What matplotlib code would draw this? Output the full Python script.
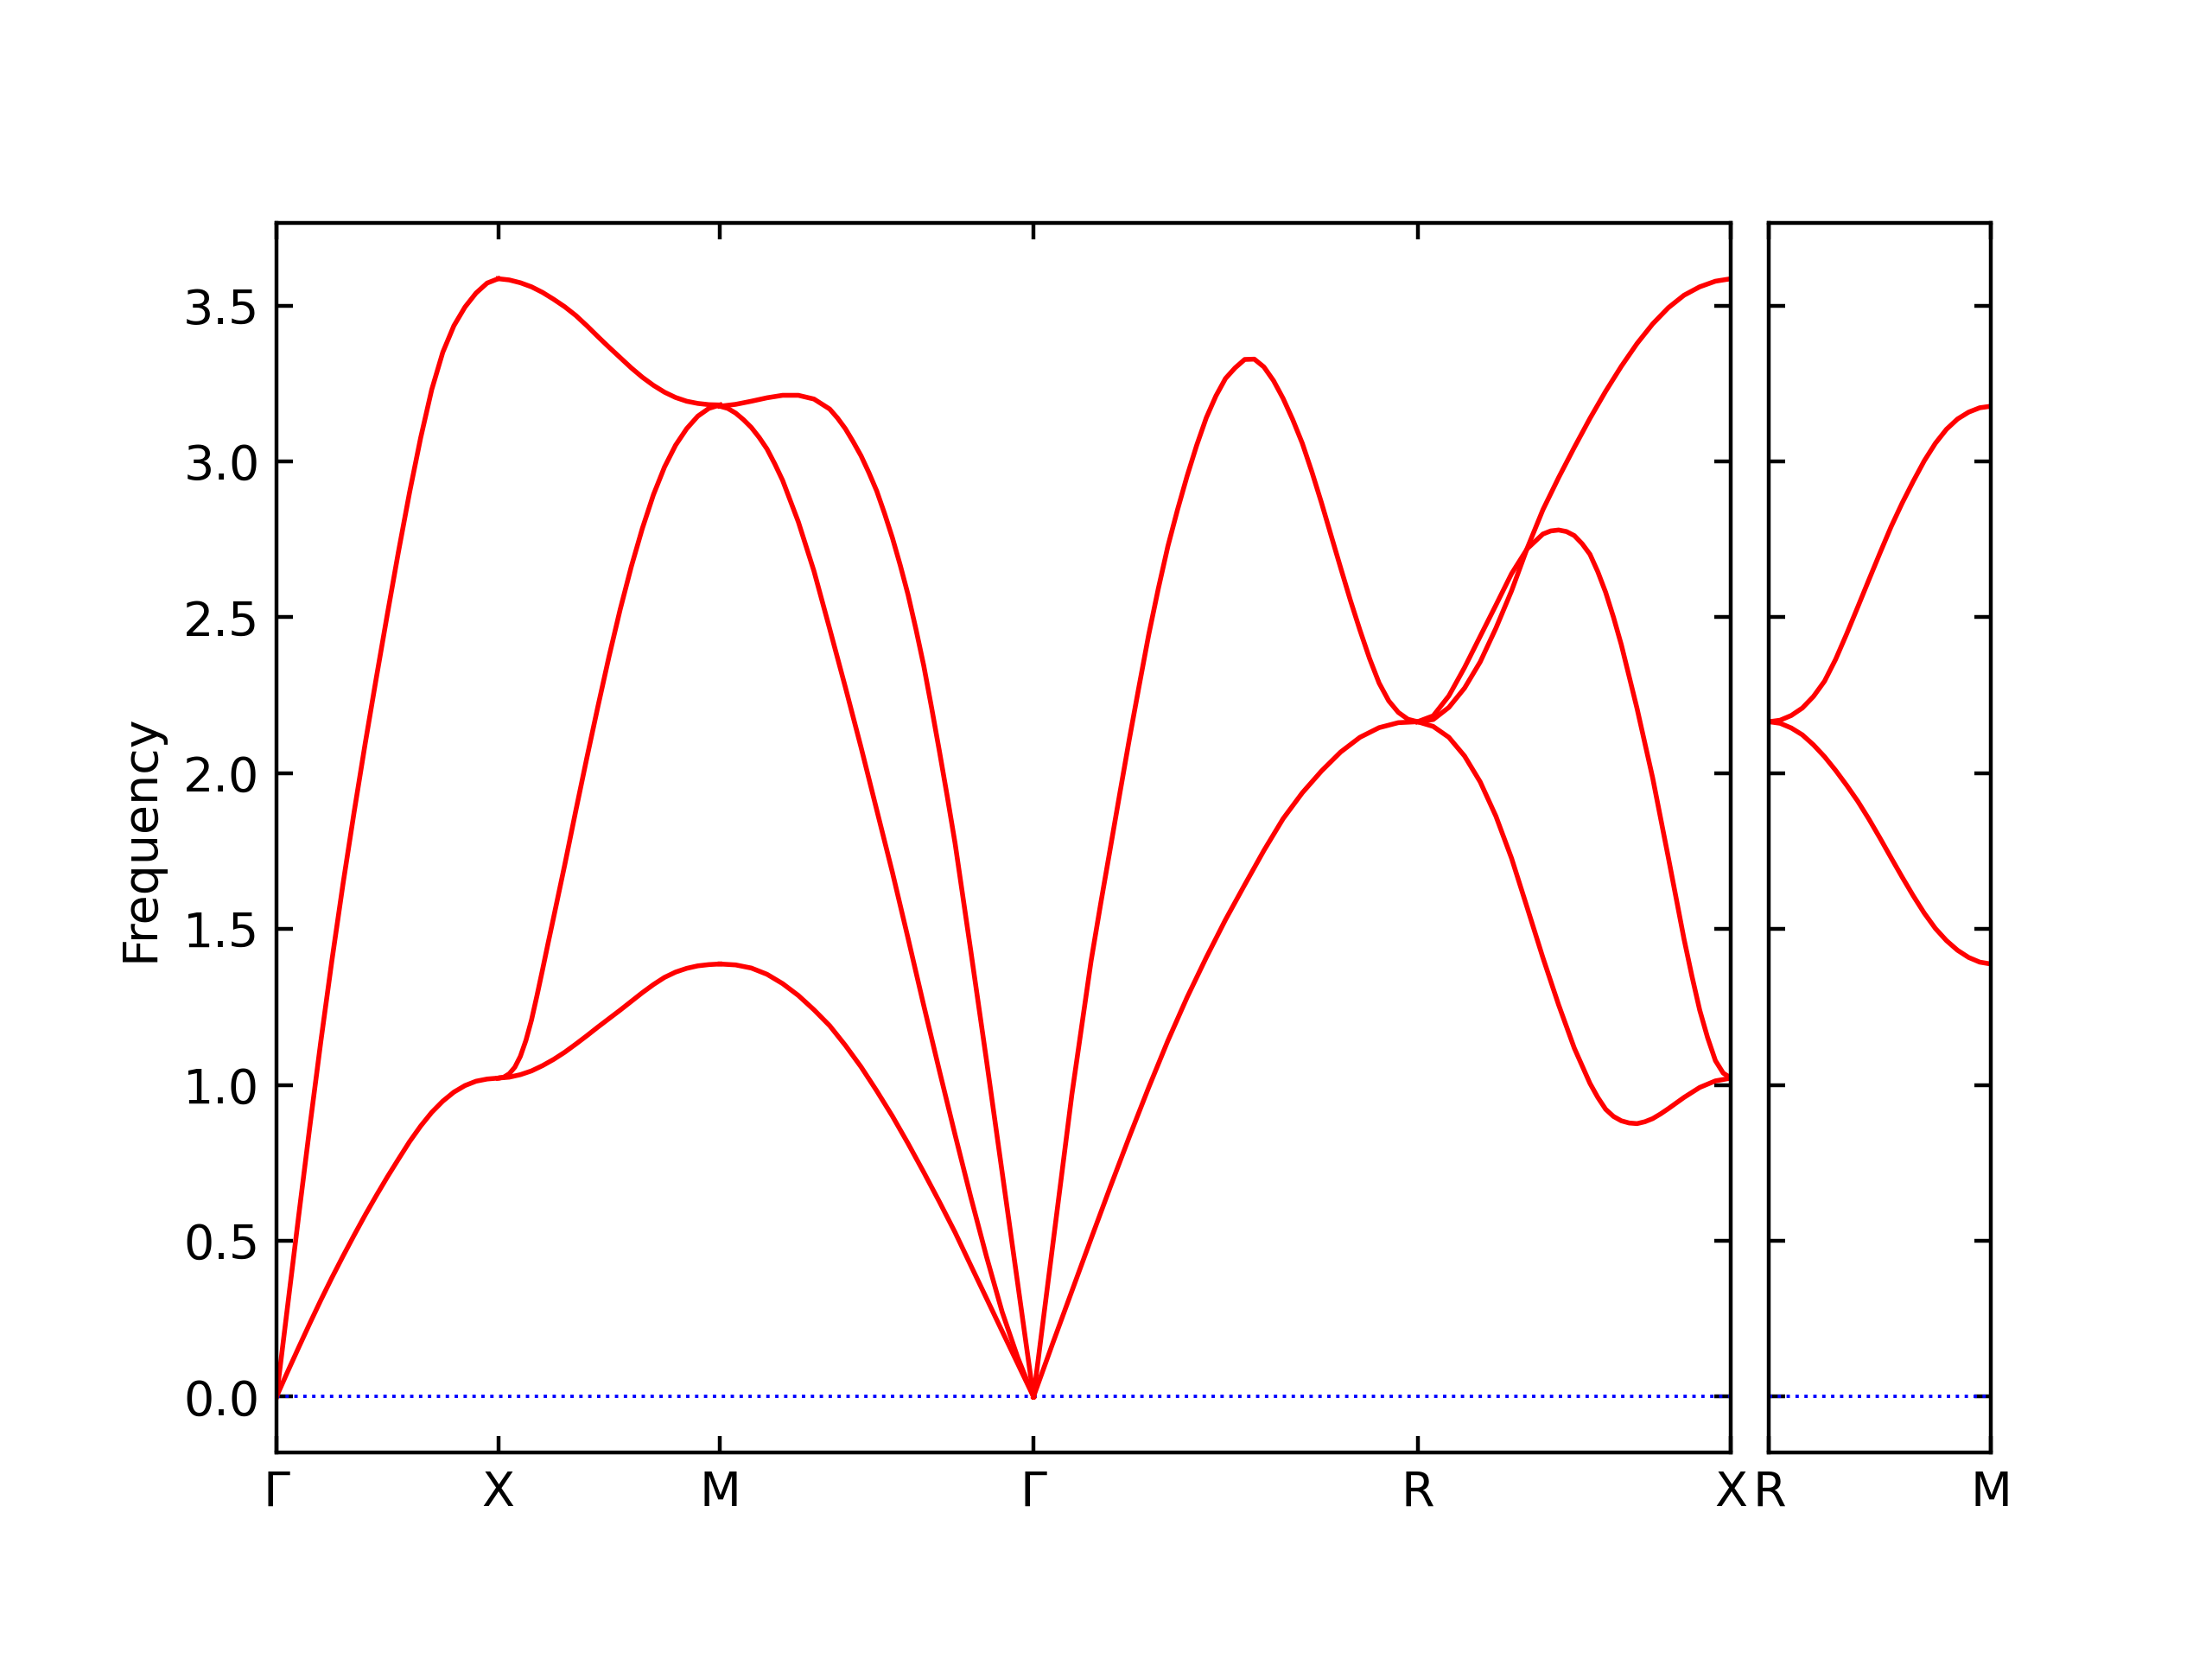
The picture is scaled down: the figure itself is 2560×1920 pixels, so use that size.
import matplotlib
matplotlib.use("Agg")
import matplotlib.pyplot as plt

# ---------------- data ----------------
labels_main = ["Γ", "X", "M", "Γ", "R", "X"]
labels_side = ["R", "M"]
seg_lengths_main = [0.5, 0.5, 0.7071, 0.8660, 0.7071]
seg_lengths_side = [0.5]

# Gamma - X
GX_q = [0, 0.025, 0.05, 0.075, 0.1, 0.125, 0.15, 0.175, 0.2, 0.225, 0.25,
        0.275, 0.3, 0.325, 0.35, 0.375, 0.4, 0.425, 0.45, 0.475, 0.5]
GX_LA_f = [0, 0.29, 0.58, 0.865, 1.14, 1.40, 1.645, 1.875, 2.095, 2.305, 2.51,
           2.71, 2.90, 3.075, 3.23, 3.35, 3.435, 3.495, 3.54, 3.572, 3.586]
GX_TA_f = [0, 0.08, 0.158, 0.235, 0.31, 0.382, 0.451, 0.518, 0.583, 0.645, 0.705,
           0.762, 0.818, 0.868, 0.912, 0.948, 0.977, 0.998, 1.012, 1.019, 1.022]

# X - M
XM_q = [0, 0.025, 0.05, 0.075, 0.1, 0.125, 0.15, 0.175, 0.2, 0.225, 0.25,
        0.275, 0.3, 0.325, 0.35, 0.375, 0.4, 0.425, 0.45, 0.475, 0.5]
XM_TOP_f = [3.586, 3.582, 3.573, 3.560, 3.542, 3.520, 3.496, 3.468, 3.435, 3.400, 3.366,
            3.333, 3.300, 3.270, 3.244, 3.222, 3.205, 3.193, 3.186, 3.182, 3.181]
XM_LOW_f = [1.022, 1.025, 1.033, 1.045, 1.062, 1.082, 1.105, 1.131, 1.158, 1.186, 1.213,
            1.240, 1.268, 1.296, 1.322, 1.345, 1.362, 1.374, 1.382, 1.386, 1.388]
XM_MID_q = [0, 0.0125, 0.025, 0.0375, 0.05, 0.0625, 0.075, 0.0875, 0.1, 0.1125, 0.125,
            0.1375, 0.15, 0.175, 0.2, 0.225, 0.25, 0.275, 0.3, 0.325, 0.35, 0.375, 0.4,
            0.425, 0.45, 0.475, 0.5]
XM_MID_f = [1.022, 1.025, 1.036, 1.057, 1.092, 1.143, 1.208, 1.287, 1.370, 1.455, 1.538,
            1.622, 1.706, 1.880, 2.050, 2.215, 2.375, 2.525, 2.662, 2.785, 2.893, 2.982, 3.052,
            3.105, 3.145, 3.170, 3.181]

# M - Gamma
MG_TOP_q = [0, 0.0354, 0.0707, 0.1061, 0.1414, 0.1768, 0.2121, 0.2475, 0.2652, 0.2828,
            0.3005, 0.3182, 0.3359, 0.3536, 0.3712, 0.3889, 0.4066, 0.4243, 0.4420, 0.4596,
            0.4773, 0.4950, 0.5127, 0.5303, 0.5657, 0.6010, 0.6364, 0.6718, 0.7071]
MG_TOP_f = [3.177, 3.183, 3.193, 3.204, 3.212, 3.212, 3.200, 3.168, 3.139, 3.105,
            3.063, 3.018, 2.964, 2.905, 2.833, 2.755, 2.667, 2.572, 2.462, 2.345,
            2.210, 2.070, 1.925, 1.775, 1.430, 1.080, 0.720, 0.360, 0]
MG_MID_q = [0, 0.0177, 0.0354, 0.0530, 0.0707, 0.0884, 0.1061, 0.1237, 0.1414, 0.1768,
            0.2121, 0.2475, 0.2828, 0.3182, 0.3536, 0.3889, 0.4243, 0.4596, 0.4950, 0.5303,
            0.5657, 0.6010, 0.6364, 0.6718, 0.7071]
MG_MID_f = [3.177, 3.170, 3.155, 3.134, 3.109, 3.077, 3.040, 2.992, 2.939, 2.806,
            2.648, 2.463, 2.276, 2.083, 1.882, 1.682, 1.470, 1.255, 1.045, 0.840,
            0.640, 0.450, 0.272, 0.125, 0]
MG_LOW_q = [0, 0.0354, 0.0707, 0.1061, 0.1414, 0.1768, 0.2121, 0.2475, 0.2828, 0.3182, 0.3536,
            0.3889, 0.4243, 0.4596, 0.4950, 0.5303, 0.5657, 0.6010, 0.6364, 0.6718, 0.7071]
MG_LOW_f = [1.388, 1.385, 1.375, 1.355, 1.325, 1.287, 1.241, 1.190, 1.127, 1.058, 0.981,
            0.900, 0.812, 0.720, 0.625, 0.527, 0.421, 0.316, 0.210, 0.105, 0]

# Gamma - R
GR_TOP_q = [0, 0.0433, 0.0866, 0.1299, 0.1516, 0.1732, 0.1949, 0.2165, 0.2382, 0.2598,
            0.2815, 0.3031, 0.3248, 0.3464, 0.3681, 0.3897, 0.4114, 0.4330, 0.4546, 0.4763,
            0.4980, 0.5196, 0.5413, 0.5629, 0.5846, 0.6062, 0.6279, 0.6495, 0.6712, 0.6928,
            0.7145, 0.7361, 0.7578, 0.7794, 0.8011, 0.8227, 0.8444, 0.8660]
GR_TOP_f = [0, 0.485, 0.970, 1.398, 1.582, 1.759, 1.937, 2.112, 2.280, 2.444,
            2.592, 2.728, 2.845, 2.953, 3.052, 3.140, 3.210, 3.266, 3.300, 3.327,
            3.328, 3.303, 3.259, 3.202, 3.134, 3.058, 2.966, 2.867, 2.762, 2.658,
            2.555, 2.459, 2.368, 2.289, 2.232, 2.195, 2.173, 2.165]
GR_LOW_q = [0, 0.0433, 0.0866, 0.1299, 0.1732, 0.2165, 0.2598, 0.3031, 0.3464, 0.3897, 0.4330,
            0.4763, 0.5196, 0.5629, 0.6062, 0.6495, 0.6928, 0.7361, 0.7794, 0.8227, 0.8660]
GR_LOW_f = [0, 0.171, 0.339, 0.507, 0.673, 0.835, 0.992, 1.142, 1.281, 1.409, 1.530,
            1.642, 1.752, 1.854, 1.937, 2.007, 2.068, 2.115, 2.146, 2.162, 2.165]

# R - X
RX_q = [0, 0.0354, 0.0707, 0.1061, 0.1414, 0.1768, 0.2121, 0.2475, 0.2828, 0.3182, 0.3536,
        0.3889, 0.4243, 0.4596, 0.4950, 0.5303, 0.5657, 0.6010, 0.6364, 0.6718, 0.7071]
RX_A_f = [2.165, 2.172, 2.211, 2.273, 2.357, 2.465, 2.585, 2.722, 2.845, 2.948, 3.045,
          3.138, 3.225, 3.305, 3.378, 3.441, 3.493, 3.533, 3.560, 3.578, 3.586]
RX_B_q = [0, 0.0354, 0.0707, 0.1061, 0.1414, 0.1768, 0.2121, 0.2475, 0.2828, 0.3005, 0.3182,
          0.3359, 0.3536, 0.3712, 0.3889, 0.4066, 0.4243, 0.4420, 0.4596, 0.4950, 0.5303,
          0.5657, 0.6010, 0.6187, 0.6364, 0.6541, 0.6718, 0.6894, 0.7071]
RX_B_f = [2.165, 2.184, 2.248, 2.339, 2.439, 2.539, 2.640, 2.720, 2.767, 2.777, 2.780,
          2.775, 2.762, 2.736, 2.702, 2.646, 2.580, 2.500, 2.412, 2.208, 1.985,
          1.729, 1.468, 1.350, 1.240, 1.152, 1.078, 1.038, 1.022]
RX_C_q = [0, 0.0354, 0.0707, 0.1061, 0.1414, 0.1768, 0.2121, 0.2475, 0.2828, 0.3182, 0.3536,
          0.3889, 0.4066, 0.4243, 0.4420, 0.4596, 0.4773, 0.4950, 0.5127, 0.5303, 0.5480,
          0.5657, 0.6010, 0.6364, 0.6718, 0.7071]
RX_C_f = [2.165, 2.150, 2.115, 2.055, 1.972, 1.862, 1.727, 1.568, 1.408, 1.257, 1.118,
          1.005, 0.960, 0.922, 0.899, 0.885, 0.878, 0.876, 0.882, 0.892, 0.907,
          0.924, 0.960, 0.992, 1.013, 1.022]

# R - M (second panel)
RM_q = [0, 0.025, 0.05, 0.075, 0.1, 0.125, 0.15, 0.175, 0.2, 0.225, 0.25,
        0.275, 0.3, 0.325, 0.35, 0.375, 0.4, 0.425, 0.45, 0.475, 0.5]
RM_UP_f = [2.165, 2.170, 2.185, 2.209, 2.246, 2.295, 2.365, 2.447, 2.533, 2.620, 2.706,
           2.790, 2.866, 2.936, 3.002, 3.058, 3.103, 3.136, 3.158, 3.172, 3.177]
RM_LOW_f = [2.165, 2.160, 2.145, 2.123, 2.091, 2.053, 2.009, 1.961, 1.910, 1.853, 1.792,
            1.729, 1.667, 1.607, 1.551, 1.502, 1.463, 1.432, 1.409, 1.394, 1.388]

segments_main = [
    [(GX_q, GX_LA_f), (GX_q, GX_TA_f)],
    [(XM_q, XM_TOP_f), (XM_MID_q, XM_MID_f), (XM_q, XM_LOW_f)],
    [(MG_TOP_q, MG_TOP_f), (MG_MID_q, MG_MID_f), (MG_LOW_q, MG_LOW_f)],
    [(GR_TOP_q, GR_TOP_f), (GR_LOW_q, GR_LOW_f)],
    [(RX_q, RX_A_f), (RX_B_q, RX_B_f), (RX_C_q, RX_C_f)],
]
segments_side = [
    [(RM_q, RM_UP_f), (RM_q, RM_LOW_f)],
]

# ---------------- figure ----------------
fig = plt.figure(figsize=(6.4, 4.8), dpi=400)
ax1 = fig.add_axes([0.125, 0.1244, 0.65758, 0.7413])
ax2 = fig.add_axes([0.79977, 0.1244, 0.10023, 0.7413], sharey=ax1)


def draw_panel(ax, seg_lengths, segments, start, labels):
    ticks = [start]
    pos = start
    for L in seg_lengths:
        pos += L
        ticks.append(pos)
    ax.plot([ticks[0], ticks[-1]], [0, 0], color="blue", linestyle=":", linewidth=0.7)
    for s0, branches in zip(ticks[:-1], segments):
        for q, f in branches:
            ax.plot([s0 + v for v in q], f, "r-", linewidth=1)
    ax.set_xlim(ticks[0], ticks[-1])
    ax.set_xticks(ticks)
    ax.set_xticklabels(labels)
    ax.tick_params(axis="both", which="both", direction="in", top=True, right=True)
    return ticks[-1]


end1 = draw_panel(ax1, seg_lengths_main, segments_main, 0.0, labels_main)
draw_panel(ax2, seg_lengths_side, segments_side, end1, labels_side)
ax2.tick_params(axis="y", labelleft=False)

all_f = [v for segs in (segments_main, segments_side) for br in segs for _, f in br for v in f]
fmax, fmin = max(all_f), min(all_f)
pad = 0.05 * (fmax - fmin)
ax1.set_ylim(fmin - pad, fmax + pad)
ax1.set_ylabel("Frequency")

fig.savefig("out.png", dpi=400)
